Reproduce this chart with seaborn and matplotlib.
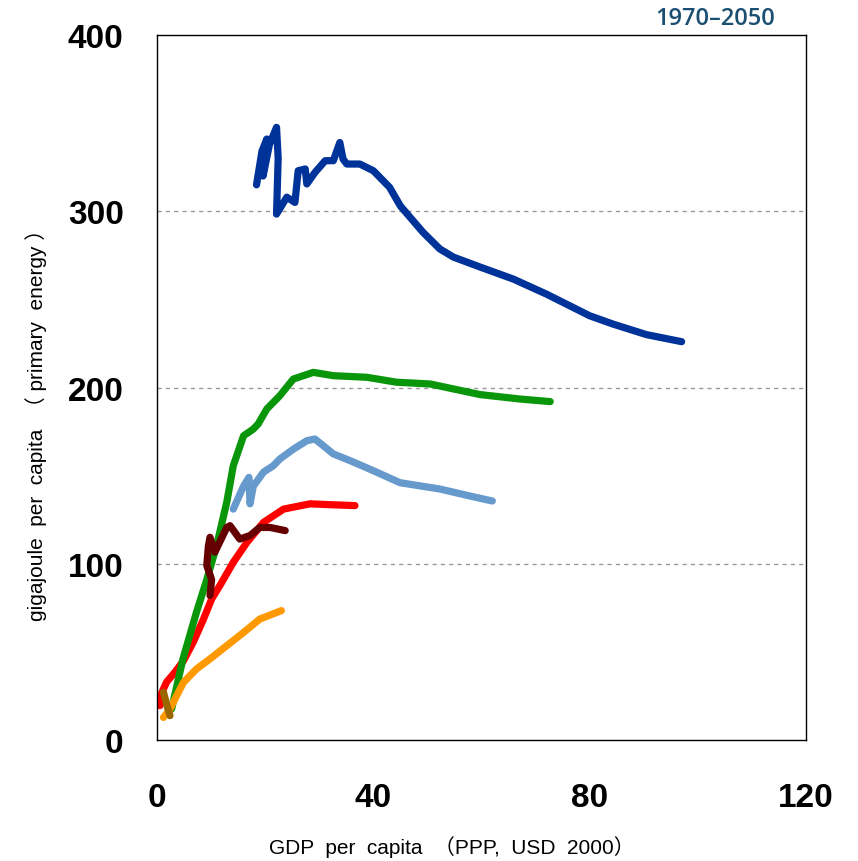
import pandas as pd
import matplotlib
matplotlib.use('Agg')
import matplotlib.pyplot as plt
import seaborn as sns

# Energy use vs GDP per capita, 1970-2050 trajectories
dark_blue_x = [18.4, 19.4, 20.3, 19.6, 20.8, 22.1, 22.4, 22.1, 24.0, 25.5, 26.1, 27.4, 27.7, 29.2,
               31.1, 32.6, 33.8, 34.4, 35.1, 37.5, 40.0, 43.0, 45.0, 49.2, 52.3, 54.8, 59.7,
               65.9, 72.0, 80.0, 84.3, 90.5, 97.0]
dark_blue_y = [315, 334, 341, 320, 338, 347.6, 330, 298.4, 308, 305, 323, 324, 315.5, 322,
               328.7, 328.7, 339, 329.6, 326.8, 326.8, 323, 313.6, 303, 288, 278.6, 274, 268.4,
               261.5, 253, 240.7, 236, 230, 226]

green_x = [2.7, 4.8, 7.3, 9.2, 11.0, 12.9, 14.1, 16.0, 17.8, 18.7, 20.3, 22.7, 25.2, 28.9,
           32.6, 38.8, 44.3, 50.5, 59.7, 67.0, 72.7]
green_y = [17.6, 46, 72.5, 91, 110, 135, 155.6, 172.6, 176.4, 179.3, 187.8, 195.3, 204.8, 208.6,
           206.7, 205.8, 203, 202, 196, 193.5, 192]

light_blue_x = [14.1, 16.0, 17.0, 17.2, 17.8, 19.7, 21.5, 22.7, 25.2, 27.7, 29.2, 32.6, 35.7,
                40.0, 44.9, 52.3, 57.9, 62.0]
light_blue_y = [131, 144, 149, 134, 144, 152, 155.6, 159.4, 165, 169.8, 170.8, 162.3, 158.5,
                152.8, 146, 142.4, 138.4, 135.6]

red_x = [0.0, 0.55, 0.9, 1.8, 3.3, 4.9, 6.7, 8.6, 10.1, 11.6, 14.1, 16.6, 19.7, 23.4, 28.3,
         32.0, 36.6]
red_y = [25, 19.5, 27, 33, 38.4, 45, 55.5, 68.6, 80, 87.5, 100.8, 112, 123.5, 131, 134,
         133.5, 133]

maroon_x = [9.8, 10.1, 9.2, 9.5, 9.8, 10.7, 12.9, 13.5, 15.3, 17.2, 19.0, 20.9, 23.7]
maroon_y = [82, 91, 99, 110, 115, 106.6, 120.6, 121.6, 114, 116, 120.6, 120.6, 118.8]

orange_x = [1.2, 2.4, 3.6, 4.9, 7.3, 9.8, 12.9, 16.0, 19.0, 23.0]
orange_y = [12.8, 17.6, 25, 32.7, 40.3, 46, 53.5, 61, 68.6, 73.4]

brown_x = [1.2, 1.8, 2.4]
brown_y = [27, 20, 13.8]

series = {
    'red': (red_x, red_y, '#FF0000'),
    'green': (green_x, green_y, '#0A960A'),
    'light_blue': (light_blue_x, light_blue_y, '#6699CC'),
    'dark_blue': (dark_blue_x, dark_blue_y, '#003399'),
    'orange': (orange_x, orange_y, '#FF9900'),
    'maroon': (maroon_x, maroon_y, '#660000'),
    'brown': (brown_x, brown_y, '#996600'),
}

frames = []
for name, (xs, ys, _) in series.items():
    frames.append(pd.DataFrame({'gdp': xs, 'energy': ys, 'region': name}))
df = pd.concat(frames, ignore_index=True)
palette = {name: c for name, (_, _, c) in series.items()}

sns.set_style('white')
plt.rcParams['text.color'] = 'black'
plt.rcParams['xtick.color'] = 'black'
plt.rcParams['ytick.color'] = 'black'
plt.rcParams['axes.labelcolor'] = 'black'

fig = plt.figure(figsize=(8.58, 8.62), dpi=100)
ax = fig.add_axes([0.183, 0.1404, 0.7564, 0.8178])

for y in [100, 200, 300]:
    ax.axhline(y, color='#999999', linestyle=(0, (3, 3)), linewidth=1, zorder=0)

sns.lineplot(data=df, x='gdp', y='energy', hue='region', palette=palette, sort=False,
             estimator=None, linewidth=5.2, legend=False, ax=ax,
             solid_capstyle='round', solid_joinstyle='round')

ax.set_xlim(0, 120)
ax.set_ylim(0, 400)
ax.set_xticks([0, 40, 80, 120])
ax.set_yticks([0, 100, 200, 300, 400])
ax.tick_params(length=0, colors='black')
ax.tick_params(axis='x', pad=30)
ax.tick_params(axis='y', pad=24)
for lab in ax.get_xticklabels() + ax.get_yticklabels():
    lab.set_fontfamily('Liberation Sans')
    lab.set_fontweight('bold')
    lab.set_fontsize(24)

for sp in ax.spines.values():
    sp.set_color('black')
    sp.set_linewidth(1)

label_fonts = ['Liberation Sans', 'Noto Sans CJK SC']
ax.set_xlabel('GDP  per  capita  （PPP,  USD  2000）', fontsize=15, family=label_fonts)
ax.xaxis.set_label_coords(0.455, -0.135)
ax.set_ylabel('gigajoule  per  capita  （ primary  energy ）', fontsize=15, family=label_fonts)
ax.yaxis.set_label_coords(-0.17, 0.455)

fig.text(0.834, 0.978, '1970–2050', color='#1B4F72', fontsize=17, fontweight='semibold',
         family=['Open Sans', 'DejaVu Sans'], ha='center', va='center')

fig.savefig('out.png', dpi=100)
